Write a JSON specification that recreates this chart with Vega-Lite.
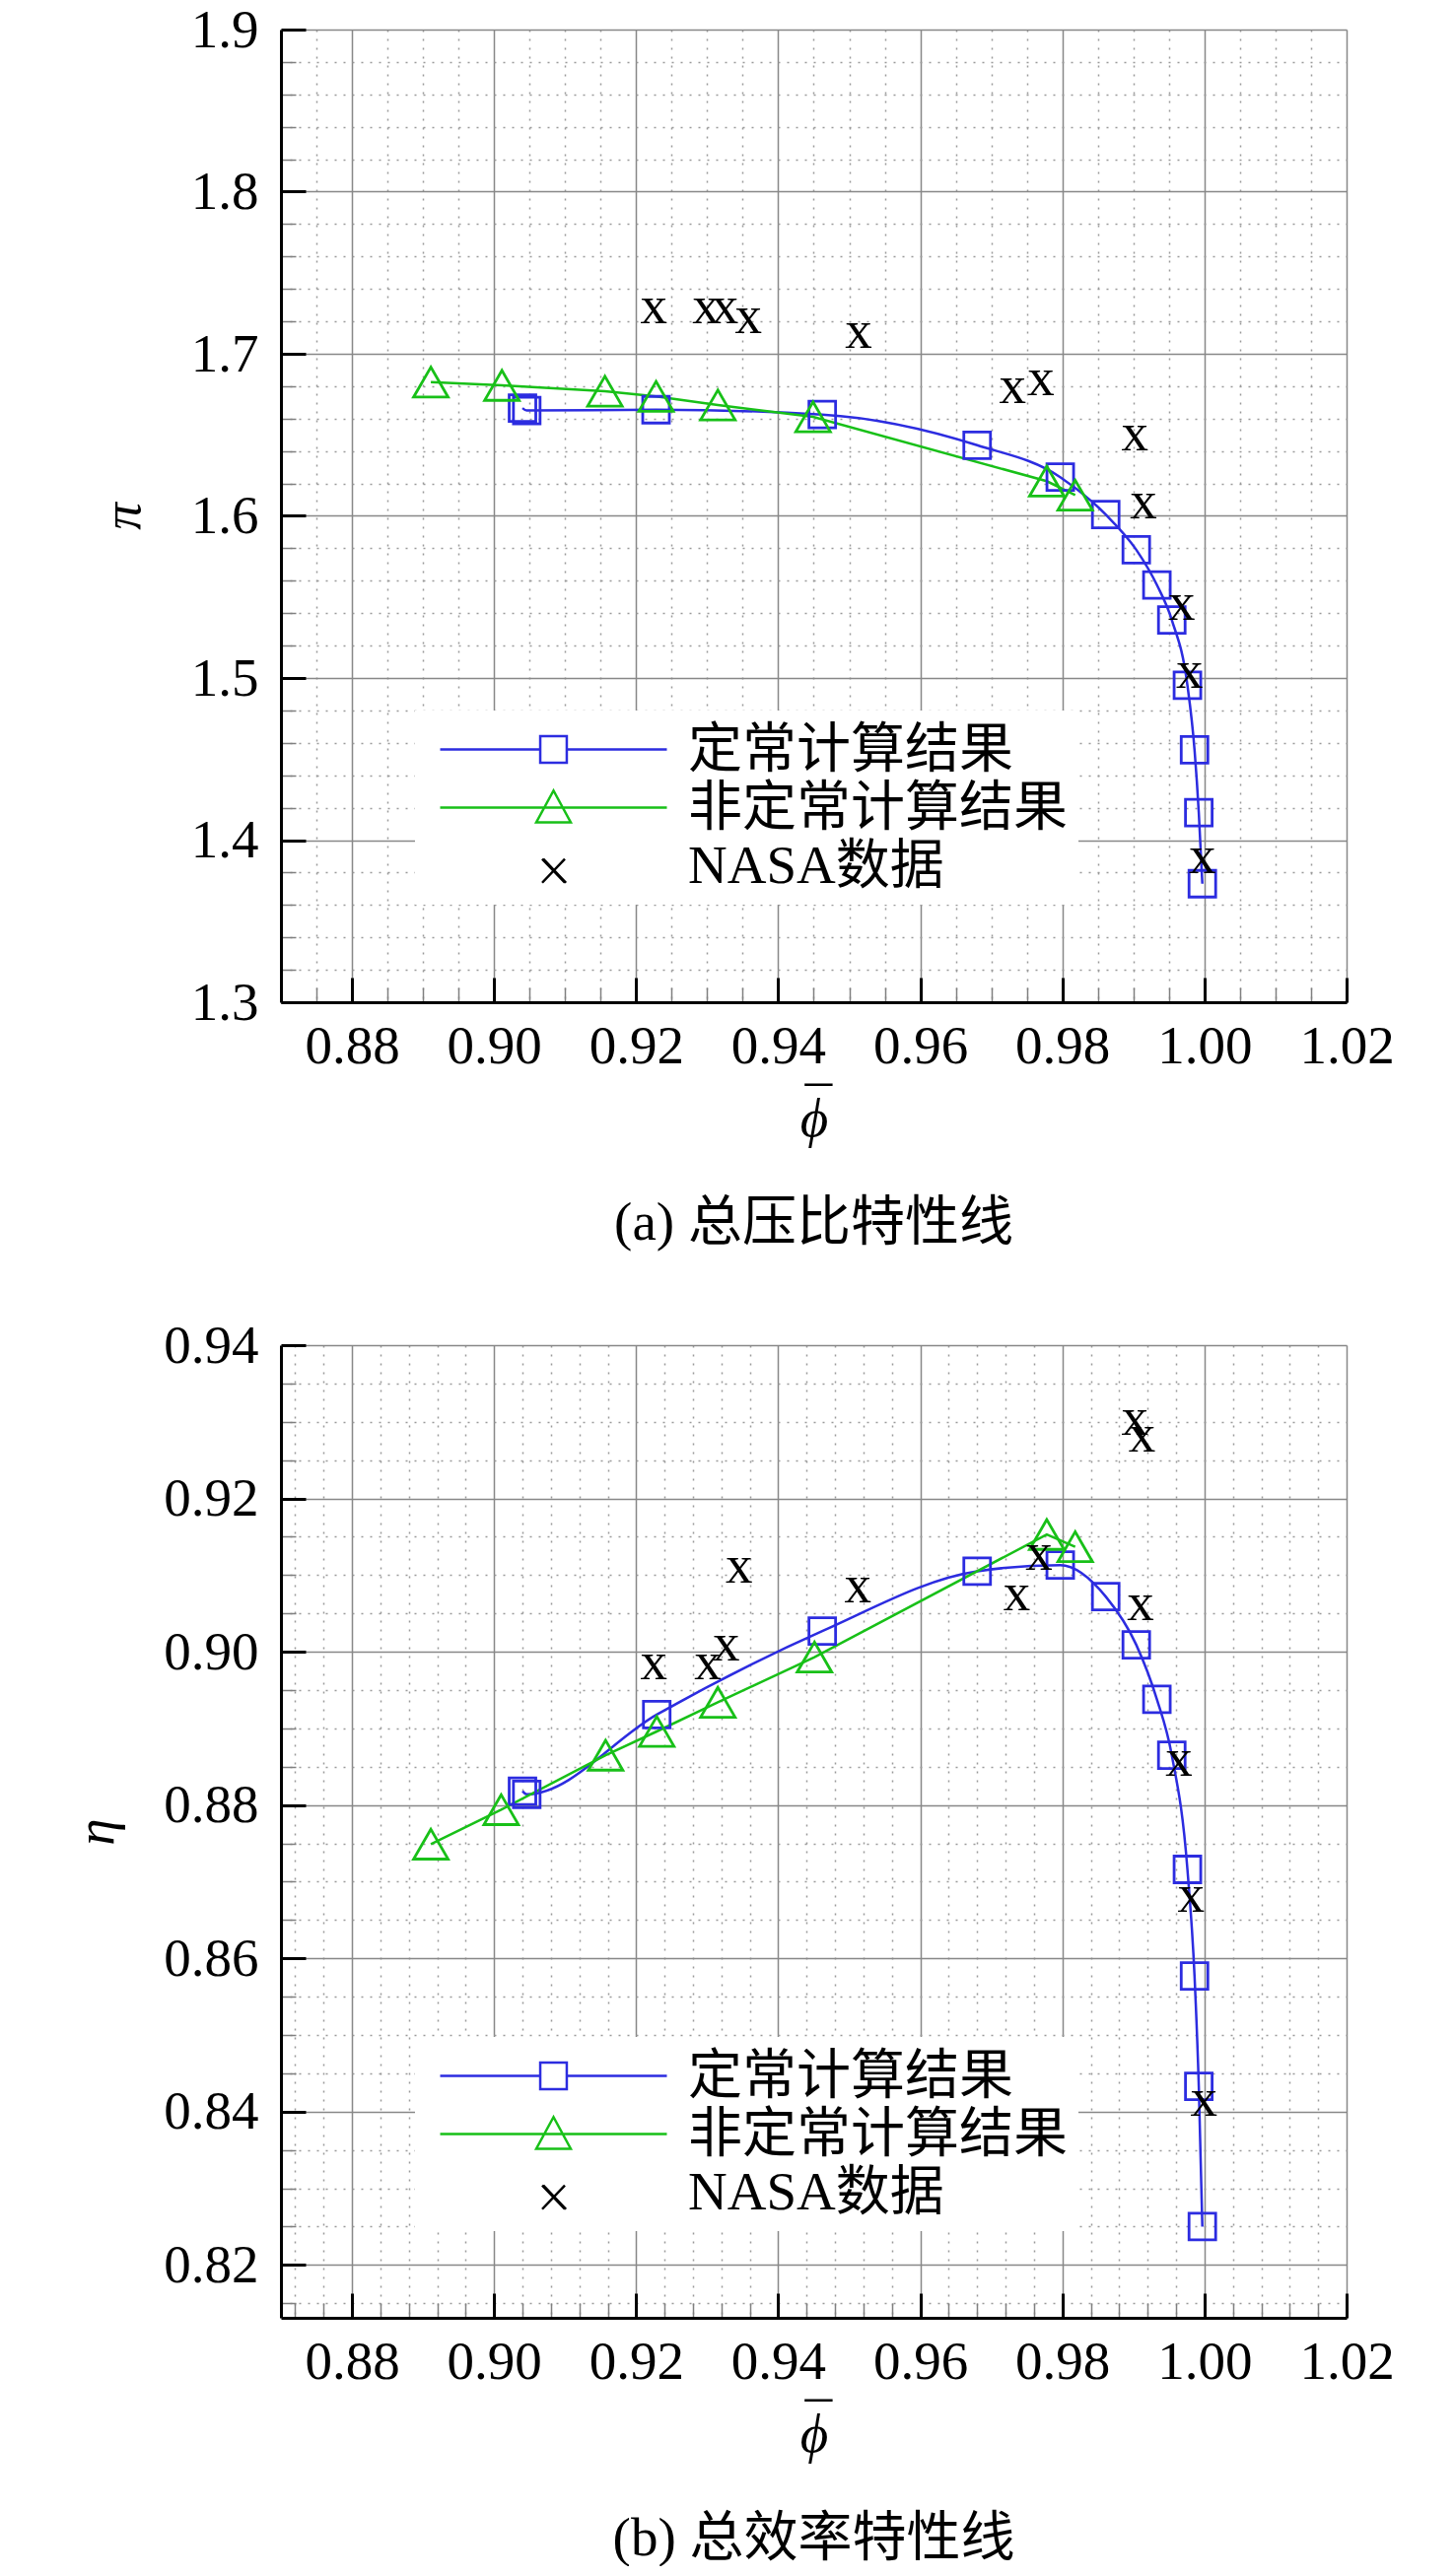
{
  "$schema": "https://vega.github.io/schema/vega-lite/v6.json",
  "padding": {"left": 70, "top": 3, "right": 0, "bottom": 0},
  "background": "white",
  "datasets": {
    "pa": [
      {"series": "定常计算结果", "phi": 0.9040, "val": 1.6665},
      {"series": "定常计算结果", "phi": 0.9046, "val": 1.6650},
      {"series": "定常计算结果", "phi": 0.9228, "val": 1.6655},
      {"series": "定常计算结果", "phi": 0.9462, "val": 1.6625},
      {"series": "定常计算结果", "phi": 0.9680, "val": 1.6436},
      {"series": "定常计算结果", "phi": 0.9797, "val": 1.6239},
      {"series": "定常计算结果", "phi": 0.9861, "val": 1.6008},
      {"series": "定常计算结果", "phi": 0.9904, "val": 1.5791},
      {"series": "定常计算结果", "phi": 0.9933, "val": 1.5574},
      {"series": "定常计算结果", "phi": 0.9954, "val": 1.5358},
      {"series": "定常计算结果", "phi": 0.9976, "val": 1.4955},
      {"series": "定常计算结果", "phi": 0.9986, "val": 1.4557},
      {"series": "定常计算结果", "phi": 0.9992, "val": 1.4169},
      {"series": "定常计算结果", "phi": 0.9997, "val": 1.3731},
      {"series": "非定常计算结果", "phi": 0.8911, "val": 1.6825},
      {"series": "非定常计算结果", "phi": 0.9011, "val": 1.6805},
      {"series": "非定常计算结果", "phi": 0.9156, "val": 1.6769},
      {"series": "非定常计算结果", "phi": 0.9228, "val": 1.6737},
      {"series": "非定常计算结果", "phi": 0.9315, "val": 1.6684},
      {"series": "非定常计算结果", "phi": 0.9449, "val": 1.6611},
      {"series": "非定常计算结果", "phi": 0.9778, "val": 1.6214},
      {"series": "非定常计算结果", "phi": 0.9818, "val": 1.6128},
      {"series": "NASA数据", "phi": 0.9225, "val": 1.7263},
      {"series": "NASA数据", "phi": 0.9298, "val": 1.7263},
      {"series": "NASA数据", "phi": 0.9325, "val": 1.7263},
      {"series": "NASA数据", "phi": 0.9358, "val": 1.7203},
      {"series": "NASA数据", "phi": 0.9513, "val": 1.7111},
      {"series": "NASA数据", "phi": 0.9730, "val": 1.6768},
      {"series": "NASA数据", "phi": 0.9770, "val": 1.6819},
      {"series": "NASA数据", "phi": 0.9902, "val": 1.6476},
      {"series": "NASA数据", "phi": 0.9914, "val": 1.6058},
      {"series": "NASA数据", "phi": 0.9968, "val": 1.5433},
      {"series": "NASA数据", "phi": 0.9979, "val": 1.5015},
      {"series": "NASA数据", "phi": 0.9997, "val": 1.3871}
    ],
    "pb": [
      {"series": "定常计算结果", "phi": 0.9040, "val": 0.8818},
      {"series": "定常计算结果", "phi": 0.9046, "val": 0.8814},
      {"series": "定常计算结果", "phi": 0.9229, "val": 0.8918},
      {"series": "定常计算结果", "phi": 0.9462, "val": 0.9027},
      {"series": "定常计算结果", "phi": 0.9680, "val": 0.9105},
      {"series": "定常计算结果", "phi": 0.9797, "val": 0.9113},
      {"series": "定常计算结果", "phi": 0.9861, "val": 0.9072},
      {"series": "定常计算结果", "phi": 0.9904, "val": 0.9009},
      {"series": "定常计算结果", "phi": 0.9933, "val": 0.8938},
      {"series": "定常计算结果", "phi": 0.9954, "val": 0.8865},
      {"series": "定常计算结果", "phi": 0.9976, "val": 0.8716},
      {"series": "定常计算结果", "phi": 0.9986, "val": 0.8577},
      {"series": "定常计算结果", "phi": 0.9992, "val": 0.8433},
      {"series": "定常计算结果", "phi": 0.9997, "val": 0.8250},
      {"series": "非定常计算结果", "phi": 0.8911, "val": 0.8749},
      {"series": "非定常计算结果", "phi": 0.9010, "val": 0.8794},
      {"series": "非定常计算结果", "phi": 0.9157, "val": 0.8865},
      {"series": "非定常计算结果", "phi": 0.9229, "val": 0.8896},
      {"series": "非定常计算结果", "phi": 0.9315, "val": 0.8934},
      {"series": "非定常计算结果", "phi": 0.9451, "val": 0.8993},
      {"series": "非定常计算结果", "phi": 0.9778, "val": 0.9153},
      {"series": "非定常计算结果", "phi": 0.9818, "val": 0.9137},
      {"series": "NASA数据", "phi": 0.9225, "val": 0.8979},
      {"series": "NASA数据", "phi": 0.9301, "val": 0.8979},
      {"series": "NASA数据", "phi": 0.9327, "val": 0.9004},
      {"series": "NASA数据", "phi": 0.9345, "val": 0.9106},
      {"series": "NASA数据", "phi": 0.9512, "val": 0.9080},
      {"series": "NASA数据", "phi": 0.9736, "val": 0.9070},
      {"series": "NASA数据", "phi": 0.9767, "val": 0.9122},
      {"series": "NASA数据", "phi": 0.9902, "val": 0.9298},
      {"series": "NASA数据", "phi": 0.9912, "val": 0.9276},
      {"series": "NASA数据", "phi": 0.9910, "val": 0.9057},
      {"series": "NASA数据", "phi": 0.9964, "val": 0.8853},
      {"series": "NASA数据", "phi": 0.9981, "val": 0.8676},
      {"series": "NASA数据", "phi": 0.9999, "val": 0.8410}
    ]
  },
  "spacing": 348,
  "bounds": "flush",
  "resolve": {
    "scale": {"x": "independent", "y": "independent", "color": "independent"},
    "legend": {"color": "independent"}
  },
  "vconcat": [
    {
      "width": 1081,
      "height": 987,
      "data": {"name": "pa"},
      "title": {"text": "(a) 总压比特性线", "orient": "bottom", "anchor": "middle", "offset": 52},
      "resolve": {"axis": {"x": "independent", "y": "independent"}},
      "layer": [
        {
          "transform": [{"filter": "datum.series === '定常计算结果'"}],
          "mark": {"type": "line", "strokeWidth": 2.5, "interpolate": "monotone"},
          "encoding": {
            "x": {
              "field": "phi", "type": "quantitative",
              "scale": {"domain": [0.87, 1.02], "nice": false, "zero": false},
              "axis": {
                "orient": "bottom", "title": null, "labels": false, "domain": false,
                "values": [0.875, 0.885, 0.89, 0.895, 0.905, 0.91, 0.915, 0.925, 0.93, 0.935, 0.945, 0.95, 0.955, 0.965, 0.97, 0.975, 0.985, 0.99, 0.995, 1.005, 1.01, 1.015],
                "grid": true, "gridColor": "#9a9a9a", "gridDash": [2, 7], "gridWidth": 1.5,
                "tickSize": -15, "tickColor": "#808080", "tickWidth": 1.5
              }
            },
            "y": {
              "field": "val", "type": "quantitative",
              "scale": {"domain": [1.3, 1.9], "nice": false, "zero": false},
              "axis": {
                "orient": "left", "title": null, "labels": false, "domain": false,
                "values": [1.32, 1.34, 1.36, 1.38, 1.42, 1.44, 1.46, 1.48, 1.52, 1.54, 1.56, 1.58, 1.62, 1.64, 1.66, 1.68, 1.72, 1.74, 1.76, 1.78, 1.82, 1.84, 1.86, 1.88],
                "grid": true, "gridColor": "#9a9a9a", "gridDash": [2, 7], "gridWidth": 1.5,
                "tickSize": -15, "tickColor": "#808080", "tickWidth": 1.5
              }
            },
            "color": {
              "field": "series", "type": "nominal",
              "scale": {"domain": ["定常计算结果", "非定常计算结果", "NASA数据"], "range": ["#2c2ce0", "#18c018", "black"]},
              "legend": {
                "orient": "none", "legendX": 136, "legendY": 691, "title": null,
                "fillColor": "white", "padding": 10, "zindex": 1,
                "symbolSize": 52900, "symbolStrokeWidth": 2.5, "symbolOffset": 14,
                "clipHeight": 59, "rowPadding": 0, "labelOffset": 20,
                "labelFontSize": 55, "labelFont": "Liberation Serif, Noto Sans CJK SC", "labelColor": "black", "labelLimit": 600,
                "encode": {
                  "symbols": {
                    "update": {
                      "shape": {"signal": "datum.value === '定常计算结果' ? 'M-1,0L-0.117,0M0.117,0L1,0M-0.117,-0.117L0.117,-0.117L0.117,0.117L-0.117,0.117Z' : datum.value === '非定常计算结果' ? 'M-1,0L1,0M0,-0.15L0.152,0.13L-0.152,0.13Z' : 'M-0.1,-0.06L0.1,0.15M-0.09,-0.06L0.11,0.15M0.1,-0.06L-0.1,0.15'"},
                      "stroke": {"signal": "datum.value === '定常计算结果' ? '#2c2ce0' : datum.value === '非定常计算结果' ? '#18c018' : 'black'"},
                      "fill": {"value": "transparent"},
                      "strokeWidth": {"value": 2.5},
                      "opacity": {"value": 1}
                    }
                  }
                }
              }
            }
          }
        },
        {
          "transform": [{"filter": "datum.series === '非定常计算结果'"}],
          "mark": {"type": "line", "strokeWidth": 2.5, "interpolate": "linear"},
          "encoding": {
            "x": {"field": "phi", "type": "quantitative", "scale": {"domain": [0.87, 1.02], "nice": false, "zero": false}, "axis": null},
            "y": {"field": "val", "type": "quantitative", "scale": {"domain": [1.3, 1.9], "nice": false, "zero": false}, "axis": null},
            "color": {
              "field": "series", "type": "nominal",
              "scale": {"domain": ["定常计算结果", "非定常计算结果", "NASA数据"], "range": ["#2c2ce0", "#18c018", "black"]}
            }
          }
        },
        {
          "transform": [{"filter": "datum.series !== 'NASA数据'"}],
          "mark": {"type": "point", "filled": false, "strokeWidth": 2.8, "opacity": 1},
          "encoding": {
            "x": {
              "field": "phi", "type": "quantitative",
              "scale": {"domain": [0.87, 1.02], "nice": false, "zero": false},
              "axis": {
                "orient": "bottom", "title": ["¯", "ϕ"], "titleLineHeight": 12, "format": ".2f",
                "values": [0.88, 0.9, 0.92, 0.94, 0.96, 0.98, 1, 1.02],
                "grid": true, "gridColor": "#888888", "gridWidth": 1.5,
                "tickSize": -25, "tickColor": "black", "tickWidth": 3,
                "domain": true, "domainColor": "black", "domainWidth": 3,
                "labelPadding": 43, "titlePadding": 8
              }
            },
            "y": {
              "field": "val", "type": "quantitative",
              "scale": {"domain": [1.3, 1.9], "nice": false, "zero": false},
              "axis": {
                "orient": "left", "title": "π", "format": ".1f",
                "values": [1.3, 1.4, 1.5, 1.6, 1.7, 1.8, 1.9],
                "grid": true, "gridColor": "#888888", "gridWidth": 1.5,
                "tickSize": -25, "tickColor": "black", "tickWidth": 3,
                "domain": true, "domainColor": "black", "domainWidth": 3,
                "labelPadding": 48, "titlePadding": 40
              }
            },
            "color": {
              "field": "series", "type": "nominal",
              "scale": {"domain": ["定常计算结果", "非定常计算结果", "NASA数据"], "range": ["#2c2ce0", "#18c018", "black"]}
            },
            "shape": {"condition": {"test": "datum.series === '非定常计算结果'", "value": "triangle-up"}, "value": "square"},
            "size": {"condition": {"test": "datum.series === '非定常计算结果'", "value": 1225}, "value": 729}
          }
        },
        {
          "transform": [{"filter": "datum.series === 'NASA数据'"}],
          "mark": {"type": "text", "font": "Liberation Serif", "fontSize": 55, "baseline": "alphabetic", "align": "center", "dy": 12, "color": "black"},
          "encoding": {
            "x": {"field": "phi", "type": "quantitative", "scale": {"domain": [0.87, 1.02], "nice": false, "zero": false}, "axis": null},
            "y": {"field": "val", "type": "quantitative", "scale": {"domain": [1.3, 1.9], "nice": false, "zero": false}, "axis": null},
            "text": {"value": "x"}
          }
        }
      ]
    },
    {
      "width": 1081,
      "height": 987,
      "data": {"name": "pb"},
      "title": {"text": "(b) 总效率特性线", "orient": "bottom", "anchor": "middle", "offset": 52},
      "resolve": {"axis": {"x": "independent", "y": "independent"}},
      "layer": [
        {
          "transform": [{"filter": "datum.series === '定常计算结果'"}],
          "mark": {"type": "line", "strokeWidth": 2.5, "interpolate": "monotone"},
          "encoding": {
            "x": {
              "field": "phi", "type": "quantitative",
              "scale": {"domain": [0.87, 1.02], "nice": false, "zero": false},
              "axis": {
                "orient": "bottom", "title": null, "labels": false, "domain": false,
                "values": [0.872, 0.876, 0.884, 0.888, 0.892, 0.896, 0.904, 0.908, 0.912, 0.916, 0.924, 0.928, 0.932, 0.936, 0.944, 0.948, 0.952, 0.956, 0.964, 0.968, 0.972, 0.976, 0.984, 0.988, 0.992, 0.996, 1.004, 1.008, 1.012, 1.016],
                "grid": true, "gridColor": "#9a9a9a", "gridDash": [2, 7], "gridWidth": 1.5,
                "tickSize": -15, "tickColor": "#808080", "tickWidth": 1.5
              }
            },
            "y": {
              "field": "val", "type": "quantitative",
              "scale": {"domain": [0.8131, 0.94], "nice": false, "zero": false},
              "axis": {
                "orient": "left", "title": null, "labels": false, "domain": false,
                "values": [0.815, 0.825, 0.83, 0.835, 0.845, 0.85, 0.855, 0.865, 0.87, 0.875, 0.885, 0.89, 0.895, 0.905, 0.91, 0.915, 0.925, 0.93, 0.935],
                "grid": true, "gridColor": "#9a9a9a", "gridDash": [2, 7], "gridWidth": 1.5,
                "tickSize": -15, "tickColor": "#808080", "tickWidth": 1.5
              }
            },
            "color": {
              "field": "series", "type": "nominal",
              "scale": {"domain": ["定常计算结果", "非定常计算结果", "NASA数据"], "range": ["#2c2ce0", "#18c018", "black"]},
              "legend": {
                "orient": "none", "legendX": 136, "legendY": 702, "title": null,
                "fillColor": "white", "padding": 10, "zindex": 1,
                "symbolSize": 52900, "symbolStrokeWidth": 2.5, "symbolOffset": 14,
                "clipHeight": 59, "rowPadding": 0, "labelOffset": 20,
                "labelFontSize": 55, "labelFont": "Liberation Serif, Noto Sans CJK SC", "labelColor": "black", "labelLimit": 600,
                "encode": {
                  "symbols": {
                    "update": {
                      "shape": {"signal": "datum.value === '定常计算结果' ? 'M-1,0L-0.117,0M0.117,0L1,0M-0.117,-0.117L0.117,-0.117L0.117,0.117L-0.117,0.117Z' : datum.value === '非定常计算结果' ? 'M-1,0L1,0M0,-0.15L0.152,0.13L-0.152,0.13Z' : 'M-0.1,-0.06L0.1,0.15M-0.09,-0.06L0.11,0.15M0.1,-0.06L-0.1,0.15'"},
                      "stroke": {"signal": "datum.value === '定常计算结果' ? '#2c2ce0' : datum.value === '非定常计算结果' ? '#18c018' : 'black'"},
                      "fill": {"value": "transparent"},
                      "strokeWidth": {"value": 2.5},
                      "opacity": {"value": 1}
                    }
                  }
                }
              }
            }
          }
        },
        {
          "transform": [{"filter": "datum.series === '非定常计算结果'"}],
          "mark": {"type": "line", "strokeWidth": 2.5, "interpolate": "linear"},
          "encoding": {
            "x": {"field": "phi", "type": "quantitative", "scale": {"domain": [0.87, 1.02], "nice": false, "zero": false}, "axis": null},
            "y": {"field": "val", "type": "quantitative", "scale": {"domain": [0.8131, 0.94], "nice": false, "zero": false}, "axis": null},
            "color": {
              "field": "series", "type": "nominal",
              "scale": {"domain": ["定常计算结果", "非定常计算结果", "NASA数据"], "range": ["#2c2ce0", "#18c018", "black"]}
            }
          }
        },
        {
          "transform": [{"filter": "datum.series !== 'NASA数据'"}],
          "mark": {"type": "point", "filled": false, "strokeWidth": 2.8, "opacity": 1},
          "encoding": {
            "x": {
              "field": "phi", "type": "quantitative",
              "scale": {"domain": [0.87, 1.02], "nice": false, "zero": false},
              "axis": {
                "orient": "bottom", "title": ["¯", "ϕ"], "titleLineHeight": 12, "format": ".2f",
                "values": [0.88, 0.9, 0.92, 0.94, 0.96, 0.98, 1, 1.02],
                "grid": true, "gridColor": "#888888", "gridWidth": 1.5,
                "tickSize": -25, "tickColor": "black", "tickWidth": 3,
                "domain": true, "domainColor": "black", "domainWidth": 3,
                "labelPadding": 43, "titlePadding": 8
              }
            },
            "y": {
              "field": "val", "type": "quantitative",
              "scale": {"domain": [0.8131, 0.94], "nice": false, "zero": false},
              "axis": {
                "orient": "left", "title": "η", "format": ".2f",
                "values": [0.82, 0.84, 0.86, 0.88, 0.9, 0.92, 0.94],
                "grid": true, "gridColor": "#888888", "gridWidth": 1.5,
                "tickSize": -25, "tickColor": "black", "tickWidth": 3,
                "domain": true, "domainColor": "black", "domainWidth": 3,
                "labelPadding": 48, "titlePadding": 39
              }
            },
            "color": {
              "field": "series", "type": "nominal",
              "scale": {"domain": ["定常计算结果", "非定常计算结果", "NASA数据"], "range": ["#2c2ce0", "#18c018", "black"]}
            },
            "shape": {"condition": {"test": "datum.series === '非定常计算结果'", "value": "triangle-up"}, "value": "square"},
            "size": {"condition": {"test": "datum.series === '非定常计算结果'", "value": 1225}, "value": 729}
          }
        },
        {
          "transform": [{"filter": "datum.series === 'NASA数据'"}],
          "mark": {"type": "text", "font": "Liberation Serif", "fontSize": 55, "baseline": "alphabetic", "align": "center", "dy": 12, "color": "black"},
          "encoding": {
            "x": {"field": "phi", "type": "quantitative", "scale": {"domain": [0.87, 1.02], "nice": false, "zero": false}, "axis": null},
            "y": {"field": "val", "type": "quantitative", "scale": {"domain": [0.8131, 0.94], "nice": false, "zero": false}, "axis": null},
            "text": {"value": "x"}
          }
        }
      ]
    }
  ],
  "config": {
    "view": {"stroke": null},
    "font": "Liberation Serif",
    "axis": {
      "labelFont": "Liberation Serif", "labelFontSize": 55, "labelColor": "black",
      "labelFlush": false, "labelOverlap": false, "labelBound": false,
      "titleFont": "Liberation Serif", "titleFontSize": 55, "titleColor": "black",
      "titleFontStyle": "italic", "titleFontWeight": "normal",
      "gridCap": "butt"
    },
    "title": {"font": "Liberation Serif, Noto Sans CJK SC", "fontSize": 55, "fontWeight": "normal", "color": "black"}
  }
}
